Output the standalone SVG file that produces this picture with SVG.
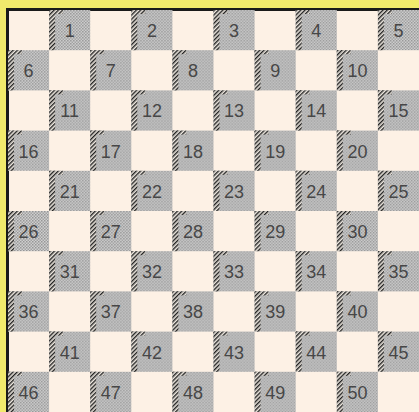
<svg xmlns="http://www.w3.org/2000/svg" width="419" height="412" viewBox="0 0 419 412">
<defs>
<pattern id="ht" width="3" height="3" patternUnits="userSpaceOnUse">
<rect width="3" height="3" fill="#cfcfcf"/>
<rect width="1.5" height="1.5" fill="#969696"/>
<rect x="1.5" y="1.5" width="1.5" height="1.5" fill="#a2a2a2"/>
</pattern>
<pattern id="hatch" width="3" height="3" patternUnits="userSpaceOnUse" patternTransform="rotate(45)">
<rect width="3" height="3" fill="#ece6de"/>
<rect width="1.4" height="3" fill="#222"/>
</pattern>
<g id="d">
<rect x="0" y="0" width="41.1" height="40.2" fill="url(#ht)"/>
<rect x="0" y="0" width="6" height="40.2" fill="url(#hatch)"/>
<rect x="0" y="0" width="14" height="4" fill="url(#hatch)"/>
</g>
</defs>
<style>
.n{font-family:"Liberation Sans",Arial,sans-serif;font-size:18px;fill:#474747;text-anchor:middle;dominant-baseline:central}
</style>
<rect width="419" height="412" fill="#f1ea6c"/>
<rect x="6" y="8" width="413" height="404" fill="#1a1a1a"/>
<rect x="9" y="11" width="410" height="401" fill="#fdf1e5"/>
<g id="connectors"/>
<g id="sq1"><use href="#d" x="49.1" y="10"/><text class="n" x="69.7" y="31">1</text></g>
<g id="sq2"><use href="#d" x="131.3" y="10"/><text class="n" x="151.9" y="31">2</text></g>
<g id="sq3"><use href="#d" x="213.5" y="10"/><text class="n" x="234.1" y="31">3</text></g>
<g id="sq4"><use href="#d" x="295.7" y="10"/><text class="n" x="316.3" y="31">4</text></g>
<g id="sq5"><use href="#d" x="377.9" y="10"/><text class="n" x="398.5" y="31">5</text></g>
<g id="sq6"><use href="#d" x="8" y="50.2"/><text class="n" x="28.6" y="71.2">6</text></g>
<g id="sq7"><use href="#d" x="90.2" y="50.2"/><text class="n" x="110.8" y="71.2">7</text></g>
<g id="sq8"><use href="#d" x="172.4" y="50.2"/><text class="n" x="193" y="71.2">8</text></g>
<g id="sq9"><use href="#d" x="254.6" y="50.2"/><text class="n" x="275.2" y="71.2">9</text></g>
<g id="sq10"><use href="#d" x="336.8" y="50.2"/><text class="n" x="357.4" y="71.2">10</text></g>
<g id="sq11"><use href="#d" x="49.1" y="90.4"/><text class="n" x="69.7" y="111.4">11</text></g>
<g id="sq12"><use href="#d" x="131.3" y="90.4"/><text class="n" x="151.9" y="111.4">12</text></g>
<g id="sq13"><use href="#d" x="213.5" y="90.4"/><text class="n" x="234.1" y="111.4">13</text></g>
<g id="sq14"><use href="#d" x="295.7" y="90.4"/><text class="n" x="316.3" y="111.4">14</text></g>
<g id="sq15"><use href="#d" x="377.9" y="90.4"/><text class="n" x="398.5" y="111.4">15</text></g>
<g id="sq16"><use href="#d" x="8" y="130.6"/><text class="n" x="28.6" y="151.6">16</text></g>
<g id="sq17"><use href="#d" x="90.2" y="130.6"/><text class="n" x="110.8" y="151.6">17</text></g>
<g id="sq18"><use href="#d" x="172.4" y="130.6"/><text class="n" x="193" y="151.6">18</text></g>
<g id="sq19"><use href="#d" x="254.6" y="130.6"/><text class="n" x="275.2" y="151.6">19</text></g>
<g id="sq20"><use href="#d" x="336.8" y="130.6"/><text class="n" x="357.4" y="151.6">20</text></g>
<g id="sq21"><use href="#d" x="49.1" y="170.8"/><text class="n" x="69.7" y="191.8">21</text></g>
<g id="sq22"><use href="#d" x="131.3" y="170.8"/><text class="n" x="151.9" y="191.8">22</text></g>
<g id="sq23"><use href="#d" x="213.5" y="170.8"/><text class="n" x="234.1" y="191.8">23</text></g>
<g id="sq24"><use href="#d" x="295.7" y="170.8"/><text class="n" x="316.3" y="191.8">24</text></g>
<g id="sq25"><use href="#d" x="377.9" y="170.8"/><text class="n" x="398.5" y="191.8">25</text></g>
<g id="sq26"><use href="#d" x="8" y="211"/><text class="n" x="28.6" y="232">26</text></g>
<g id="sq27"><use href="#d" x="90.2" y="211"/><text class="n" x="110.8" y="232">27</text></g>
<g id="sq28"><use href="#d" x="172.4" y="211"/><text class="n" x="193" y="232">28</text></g>
<g id="sq29"><use href="#d" x="254.6" y="211"/><text class="n" x="275.2" y="232">29</text></g>
<g id="sq30"><use href="#d" x="336.8" y="211"/><text class="n" x="357.4" y="232">30</text></g>
<g id="sq31"><use href="#d" x="49.1" y="251.2"/><text class="n" x="69.7" y="272.2">31</text></g>
<g id="sq32"><use href="#d" x="131.3" y="251.2"/><text class="n" x="151.9" y="272.2">32</text></g>
<g id="sq33"><use href="#d" x="213.5" y="251.2"/><text class="n" x="234.1" y="272.2">33</text></g>
<g id="sq34"><use href="#d" x="295.7" y="251.2"/><text class="n" x="316.3" y="272.2">34</text></g>
<g id="sq35"><use href="#d" x="377.9" y="251.2"/><text class="n" x="398.5" y="272.2">35</text></g>
<g id="sq36"><use href="#d" x="8" y="291.4"/><text class="n" x="28.6" y="312.4">36</text></g>
<g id="sq37"><use href="#d" x="90.2" y="291.4"/><text class="n" x="110.8" y="312.4">37</text></g>
<g id="sq38"><use href="#d" x="172.4" y="291.4"/><text class="n" x="193" y="312.4">38</text></g>
<g id="sq39"><use href="#d" x="254.6" y="291.4"/><text class="n" x="275.2" y="312.4">39</text></g>
<g id="sq40"><use href="#d" x="336.8" y="291.4"/><text class="n" x="357.4" y="312.4">40</text></g>
<g id="sq41"><use href="#d" x="49.1" y="331.6"/><text class="n" x="69.7" y="352.6">41</text></g>
<g id="sq42"><use href="#d" x="131.3" y="331.6"/><text class="n" x="151.9" y="352.6">42</text></g>
<g id="sq43"><use href="#d" x="213.5" y="331.6"/><text class="n" x="234.1" y="352.6">43</text></g>
<g id="sq44"><use href="#d" x="295.7" y="331.6"/><text class="n" x="316.3" y="352.6">44</text></g>
<g id="sq45"><use href="#d" x="377.9" y="331.6"/><text class="n" x="398.5" y="352.6">45</text></g>
<g id="sq46"><use href="#d" x="8" y="371.8"/><text class="n" x="28.6" y="392.8">46</text></g>
<g id="sq47"><use href="#d" x="90.2" y="371.8"/><text class="n" x="110.8" y="392.8">47</text></g>
<g id="sq48"><use href="#d" x="172.4" y="371.8"/><text class="n" x="193" y="392.8">48</text></g>
<g id="sq49"><use href="#d" x="254.6" y="371.8"/><text class="n" x="275.2" y="392.8">49</text></g>
<g id="sq50"><use href="#d" x="336.8" y="371.8"/><text class="n" x="357.4" y="392.8">50</text></g>
</svg>
